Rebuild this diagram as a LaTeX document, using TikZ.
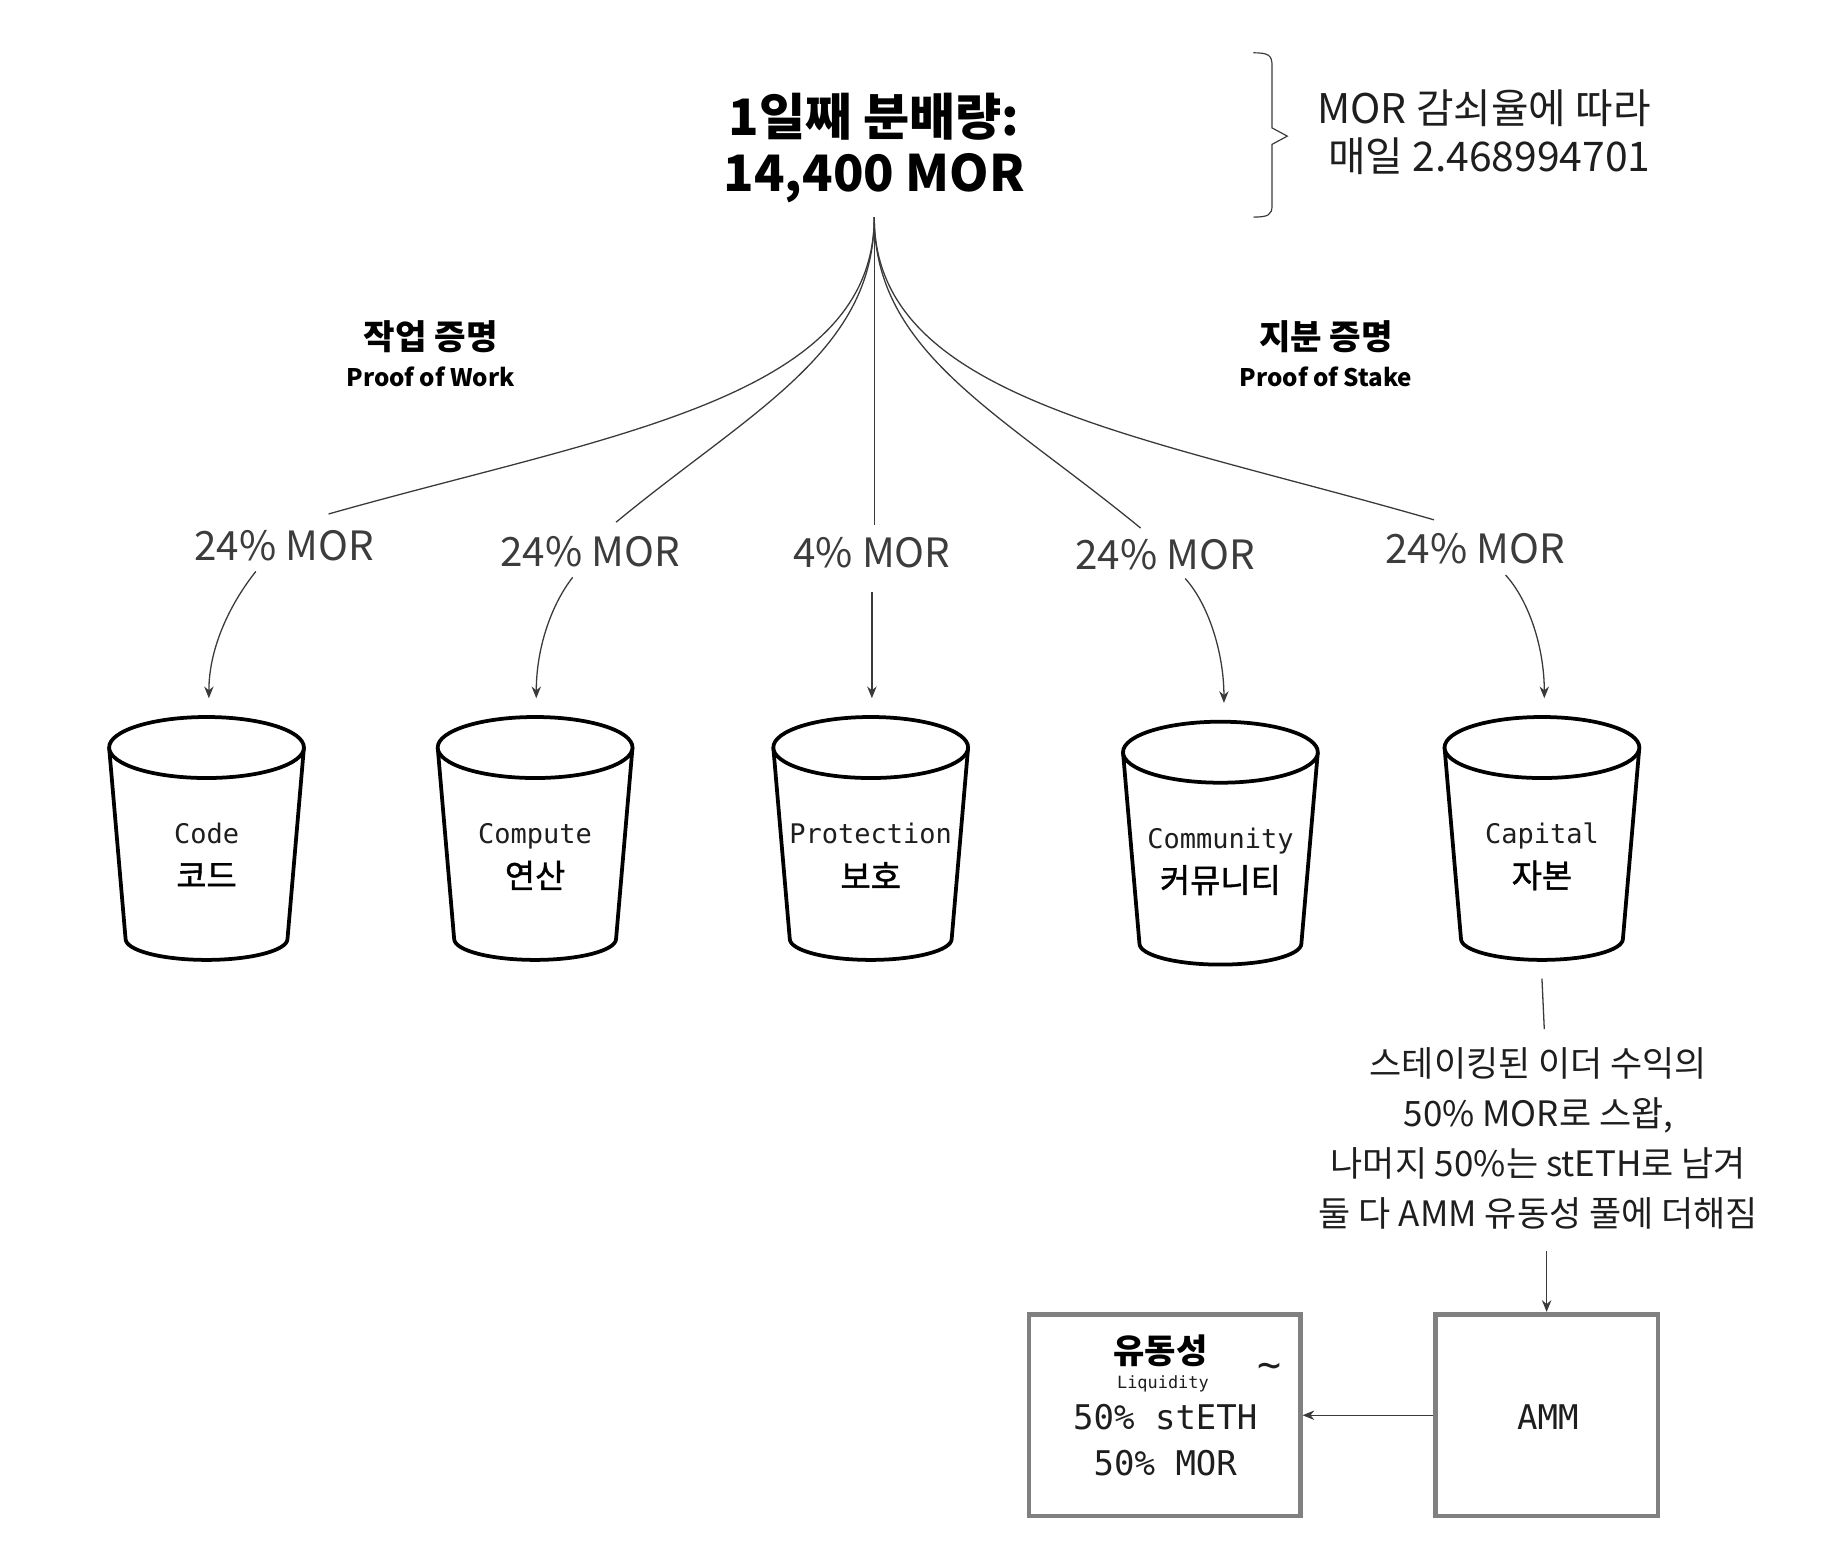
\documentclass[tikz,border=0pt]{standalone}
\usepackage{fontspec}
\setmainfont{Noto Sans CJK KR}
\newfontfamily\kr{Noto Sans CJK KR}
\newfontfamily\krfb[FakeBold=1.2]{Noto Sans CJK KR}
\newfontfamily\mono{DejaVu Sans Mono}
\usetikzlibrary{arrows.meta}
\definecolor{linec}{HTML}{3A3A3A}
\definecolor{labc}{HTML}{3C3C3C}
\definecolor{boxc}{HTML}{808080}
\definecolor{txt}{HTML}{1E1E1E}
\newcommand\mybucket[5]{%
  \draw[bucketline] (#2-83,#3) -- (#2-69,#3+163)
     arc[start angle=180,end angle=0,x radius=69,y radius=18] -- (#2+83,#3);
  \draw[bucketline] (#2,#3) ellipse[x radius=83,y radius=26];
  \node[monot, anchor=base] (#1en) at (#2,#3+82) {#4};
  \node[kobk] (#1) at (#2,#3+109) {#5};
  \coordinate (#1top) at (#2,#3-42);
  \coordinate (#1bot) at (#2,#3+189);
}
\begin{document}
\begin{tikzpicture}[x=0.5pt,y=-0.5pt,
  conn/.style={draw=linec, line width=0.55pt},
  arr/.style={conn, -{Stealth[length=5pt,width=4pt]}},
  pct/.style={font=\kr\fontsize{17.2}{20}\selectfont, text=labc, inner sep=0pt},
  bucketline/.style={draw=black, line width=1.6pt, fill=white},
  monot/.style={font=\mono\fontsize{11.5}{13}\selectfont, text=txt, inner sep=0pt},
  kobk/.style={font=\krfb\fontsize{14}{16}\selectfont, text=black, inner sep=0pt},
  boxnode/.style={draw=boxc, line width=2pt, fill=white},
  heading/.style={font=\kr\bfseries\fontsize{14.6}{16}\selectfont, inner sep=0pt},
  subheading/.style={font=\kr\bfseries\fontsize{10.3}{12}\selectfont, inner sep=0pt}]
\useasboundingbox (0,0) rectangle (1568,1324);

% title
\node[font=\kr\bfseries\fontsize{21.4}{24}\selectfont, align=center, inner sep=0pt] (title) at (745,126) {1일째 분배량:\\14,400 MOR};
\coordinate (root) at (745,185);

% brace and note
\draw[draw=linec, line width=0.5pt] (1068,45) .. controls (1081,45) and (1084,47) .. (1084,56)
  -- (1084,109) -- (1097,116) -- (1084,123) -- (1084,175)
  .. controls (1084,183) and (1081,185) .. (1068,185);
\node[font=\kr\fontsize{17.4}{20.5}\selectfont, align=right, anchor=east, text=txt, inner sep=0pt] (note) at (1407,113) {MOR 감쇠율에 따라\\매일 2.468994701};

% headings
\node[heading] (pow) at (367,287) {작업 증명};
\node[subheading] (powen) at (367,321) {Proof of Work};
\node[heading] (pos) at (1130,287) {지분 증명};
\node[subheading] (posen) at (1130,321) {Proof of Stake};

% percentage labels
\node[pct] (l1) at (242,465) {24\% MOR};
\node[pct] (l2) at (503,470) {24\% MOR};
\node[pct] (l3) at (743,471) {4\% MOR};
\node[pct] (l4) at (993,473) {24\% MOR};
\node[pct] (l5) at (1257,468) {24\% MOR};

\coordinate (e1) at (280,438);
\coordinate (e2) at (525,445);
\coordinate (e3) at (745,447);
\coordinate (e4) at (972,450);
\coordinate (e5) at (1222,443);

\draw[conn] (root) .. controls (745,340) and (520,370) .. (e1);
\draw[conn] (root) .. controls (745,300) and (640,350) .. (e2);
\draw[conn] (root) -- (e3);
\draw[conn] (root) .. controls (745,300) and (850,350) .. (e4);
\draw[conn] (root) .. controls (745,340) and (970,370) .. (e5);

% buckets
\mybucket{b1}{176}{637}{Code}{코드}
\mybucket{b2}{456}{637}{Compute}{연산}
\mybucket{b3}{742}{637}{Protection}{보호}
\mybucket{b4}{1040}{641}{Community}{커뮤니티}
\mybucket{b5}{1314}{637}{Capital}{자본}

\coordinate (s1) at (218,487);
\coordinate (s2) at (488,492);
\coordinate (s4) at (1010,493);
\coordinate (s5) at (1283,490);
\draw[arr] (s1) .. controls (198,512) and (178,550) .. ([xshift=1pt]b1top);
\draw[arr] (s2) .. controls (470,515) and (457,552) .. ([xshift=0.5pt]b2top);
\draw[arr] ([yshift=-10pt]l3.south) -- ([xshift=0.5pt]b3top);
\draw[arr] (s4) .. controls (1030,515) and (1043,557) .. ([xshift=1.5pt]b4top);
\draw[arr] (s5) .. controls (1303,512) and (1316,552) .. ([xshift=1pt]b5top);

% capital flow
\node[font=\kr\fontsize{14.9}{21.4}\selectfont, align=center, text=txt, inner sep=0pt] (swap) at (1311,970)
  {스테이킹된 이더 수익의\\50\% MOR로 스왑,\\나머지 50\%는 stETH로 남겨\\둘 다 AMM 유동성 풀에 더해짐};
\coordinate (swaptop) at (1316,877);
\draw[conn] ([yshift=-4pt]b5bot) -- (swaptop);

\node[boxnode, minimum width=95pt, minimum height=86pt] (amm) at (1318,1206) {};
\node[font=\mono\fontsize{14.5}{16}\selectfont, text=txt, inner sep=0pt] (ammt) at (1319,1208) {AMM};
\node[boxnode, minimum width=115.5pt, minimum height=86pt] (liq) at (992.5,1206) {};
\node[font=\kr\bfseries\fontsize{14.5}{15}\selectfont, inner sep=0pt] (liqko) at (989,1151) {유동성};
\node[font=\mono\fontsize{7.2}{8}\selectfont, text=txt, inner sep=0pt] (liqen) at (991,1179) {Liquidity};
\node[font=\mono\fontsize{17}{18}\selectfont, text=txt, inner sep=0pt] (tilde) at (1082,1168) {\textasciitilde};
\node[font=\mono\fontsize{14.5}{16}\selectfont, text=txt, inner sep=0pt] (steth) at (993,1208) {50\% stETH};
\node[font=\mono\fontsize{14.5}{16}\selectfont, text=txt, inner sep=0pt] (mor) at (993,1247) {50\% MOR};

\coordinate (swapbot) at (1318,1066);
\draw[arr] (swapbot) -- (amm.north);
\draw[arr] (amm.west) -- (liq.east);
\end{tikzpicture}
\end{document}
